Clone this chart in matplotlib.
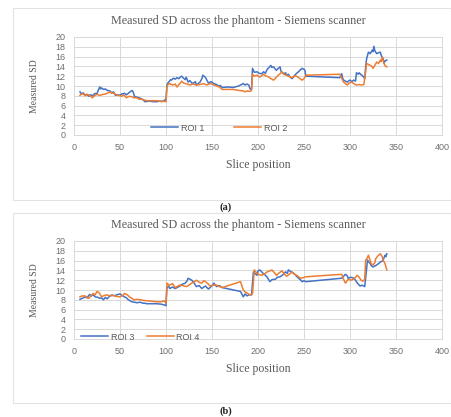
import matplotlib
matplotlib.use("Agg")
import matplotlib.pyplot as plt
from matplotlib.patches import Rectangle

# ---------------- data ----------------
roi1_x = [6.5, 8, 10, 12, 14, 16, 18, 20, 23, 25, 26, 28, 29, 30, 32, 34, 36, 39, 41, 43, 45, 48, 50, 52, 55, 57,
          59, 61, 63, 64, 66, 69, 72, 75, 77, 82, 86, 90, 93, 97, 99, 100,
          101, 102, 103, 105, 106, 108, 110, 112, 114, 116, 117, 119, 121, 122, 124, 126, 128, 130, 132, 133, 135,
          137, 139, 140, 142, 143, 145, 146, 149, 152, 155, 157, 159, 161, 167, 173, 179, 184, 186, 188, 190,
          191, 192, 193, 194, 196, 199, 201, 204, 206, 208, 210, 212, 214, 215, 217, 219, 220, 222, 224, 225, 228,
          230, 231, 233, 235, 237, 239, 240, 242, 244, 246, 248, 250, 251, 252,
          289, 291, 292, 293, 295, 297, 299, 300, 302, 304, 306, 307, 309, 310, 312, 313, 315, 316,
          317, 318, 320, 322, 324, 325, 326, 327, 329, 331, 333, 334, 336, 337, 338, 340]
roi1_y = [8.8, 8.4, 8.6, 8.1, 8.3, 7.9, 8.2, 8.0, 8.5, 8.4, 9.0, 9.8, 9.4, 9.6, 9.3, 9.4, 9.1, 9.0, 8.6, 8.8, 8.1, 8.2, 8.1, 8.4, 8.5, 8.2,
          8.5, 8.8, 9.1, 8.9, 7.8, 7.7, 7.5, 7.2, 6.8, 6.9, 6.8, 6.8, 6.9, 6.9, 7.2, 7.1,
          10.2, 10.6, 10.8, 11.3, 11.2, 11.6, 11.4, 11.7, 11.5, 11.9, 12.0, 11.6, 11.3, 11.8, 10.8, 11.1, 10.6, 10.6, 10.9, 10.2, 10.5,
          10.8, 11.5, 12.2, 11.9, 11.7, 11.0, 10.6, 10.9, 10.5, 10.3, 10.0, 10.1, 9.7, 9.8, 9.7, 10.0, 10.5, 10.2, 10.4, 10.2,
          9.6, 9.3, 9.4, 13.6, 12.8, 12.9, 12.6, 12.5, 12.9, 12.6, 13.4, 13.8, 14.2, 13.8, 13.9, 13.4, 13.2, 13.6, 13.9, 13.0, 12.5,
          12.7, 12.2, 12.4, 11.8, 11.5, 11.9, 12.2, 12.6, 12.9, 13.3, 13.6, 13.4, 13.2, 12.0,
          11.7, 12.5, 11.6, 11.2, 11.0, 10.8, 11.1, 11.2, 10.9, 11.2, 11.0, 12.7, 12.4, 12.7, 12.3, 12.2, 11.8, 11.5,
          13.9, 15.5, 16.9, 16.6, 17.3, 17.0, 18.1, 17.2, 16.6, 16.8, 16.9, 16.2, 15.6, 14.6, 15.1, 15.3]

roi2_x = [6.5, 8, 10, 12, 14, 17, 20, 22, 25, 28, 32, 35, 37, 39, 41, 43, 45, 48, 52, 54, 57, 60, 63, 65, 68,
          71, 74, 77, 79, 85, 90, 93, 95, 98, 100,
          101, 102, 104, 106, 108, 110, 112, 114, 116, 117, 119, 121, 123, 126, 129, 133, 137, 141, 144, 148, 151,
          155, 158, 161, 167, 173, 179, 184, 186, 188, 191, 193,
          194, 196, 199, 202, 206, 208, 211, 214, 217, 219, 222, 224, 226, 228, 231, 234, 237, 239, 242, 245, 248,
          250, 252,
          289, 291, 293, 295, 297, 299, 302, 304, 307, 310, 313, 315, 317, 318, 320, 322, 324, 325, 327, 329,
          331, 333, 334, 335, 337, 338, 340]
roi2_y = [8.1, 8.3, 8.4, 8.0, 8.3, 8.1, 7.6, 8.0, 8.3, 8.1, 8.3, 8.4, 8.6, 8.8, 8.5, 8.6, 8.3, 8.1, 7.9, 8.2, 7.6, 7.9, 7.8, 7.6, 7.6,
          7.3, 7.3, 7.1, 7.0, 7.0, 7.0, 6.9, 6.8, 6.9, 6.8,
          9.8, 10.3, 10.5, 10.3, 10.2, 10.4, 9.8, 10.3, 10.7, 11.0, 10.6, 10.5, 10.4, 10.2, 10.4, 10.2, 10.3, 10.5, 10.2, 10.5, 10.3,
          10.0, 9.8, 9.3, 9.3, 9.3, 9.1, 9.0, 8.8, 9.0, 8.9, 9.1,
          12.4, 12.0, 12.2, 11.8, 12.4, 12.1, 11.9, 11.5, 11.2, 11.6, 12.2, 12.5, 12.9, 12.4, 12.2, 11.9, 11.7, 12.0, 12.0, 11.6, 11.2,
          11.5, 12.2,
          12.4, 11.6, 10.8, 10.5, 10.2, 10.6, 10.8, 10.5, 10.2, 10.3, 10.2, 10.3, 12.9, 14.6, 14.4, 14.2, 14.0, 13.6, 14.2, 14.9,
          14.6, 15.3, 15.0, 15.9, 14.6, 14.2, 13.9]

roi3_x = [6.5, 9, 12, 14, 17, 19, 21, 23, 26, 28, 30, 32, 34, 36, 38, 41, 44, 46, 48, 50, 52, 55, 57, 59, 61, 63,
          66, 68, 72, 75, 77, 79, 85, 90, 95, 97, 100,
          101, 103, 104, 107, 110, 112, 115, 118, 121, 123, 124, 126, 128, 130, 133, 136, 139, 141, 143, 146, 148,
          150, 152, 154, 155, 158, 161, 171, 181, 184, 186, 188, 190, 193,
          195, 197, 199, 200, 202, 205, 208, 210, 213, 215, 219, 221, 224, 227, 230, 232, 233, 236, 239, 241, 244,
          246, 248, 250, 252,
          291, 293, 295, 297, 298, 301, 304, 306, 308, 310, 311, 313, 316,
          317, 319, 320, 322, 323, 325, 327, 329, 331, 333, 335, 336, 338, 339, 340]
roi3_y = [8.1, 8.3, 8.6, 8.4, 9.1, 8.8, 9.0, 8.6, 8.5, 8.3, 8.4, 8.0, 8.5, 8.2, 8.6, 9.0, 8.8, 9.0, 9.1, 9.2, 8.9, 8.6, 8.4, 8.0, 7.8, 7.6,
          7.5, 7.4, 7.5, 7.3, 7.3, 7.2, 7.2, 7.2, 7.1, 7.0, 6.8,
          10.5, 10.8, 10.3, 10.6, 10.3, 10.5, 10.8, 11.2, 11.4, 11.9, 12.4, 12.2, 12.0, 11.6, 10.7, 10.9, 10.3, 10.6, 10.8, 10.2, 10.5,
          10.9, 11.4, 10.9, 10.7, 10.9, 10.5, 10.1, 9.7, 8.6, 9.2, 8.8, 9.0, 9.0,
          13.7, 13.3, 13.0, 13.9, 14.1, 13.5, 13.0, 12.6, 11.7, 12.1, 12.2, 12.6, 12.7, 13.1, 13.7, 13.4, 14.1, 13.7, 13.4, 13.0, 12.4,
          12.1, 11.7, 11.9, 11.7,
          12.4, 12.8, 13.2, 12.9, 12.4, 12.6, 12.4, 12.0, 11.4, 11.0, 10.8, 11.0, 10.7,
          12.4, 16.1, 15.8, 15.4, 15.0, 14.7, 14.9, 15.1, 15.4, 15.7, 15.9, 16.1, 17.1, 16.8, 17.4]

roi4_x = [6.5, 9, 12, 14, 16, 19, 21, 23, 25, 27, 30, 33, 36, 39, 43, 46, 50, 53, 55, 58, 61, 63, 65, 68, 72,
          75, 79, 85, 90, 95, 98, 100,
          101, 103, 104, 107, 110, 113, 115, 118, 122, 125, 128, 131, 133, 136, 139, 141, 143, 146, 148, 151,
          155, 158, 161, 171, 181, 184, 186, 189, 191, 194,
          196, 198, 199, 202, 204, 207, 210, 213, 215, 218, 220, 223, 226, 229, 231, 234, 237, 239, 242, 244, 246,
          249, 252,
          291, 293, 295, 297, 298, 301, 304, 306, 308, 310, 312, 314, 316,
          317, 319, 320, 322, 323, 325, 327, 328, 330, 333, 335, 336, 338, 339, 340]
roi4_y = [8.6, 8.8, 8.8, 8.5, 8.3, 8.9, 9.3, 9.0, 9.7, 9.5, 8.6, 8.9, 9.0, 8.8, 8.9, 8.7, 8.6, 8.9, 9.3, 9.0, 8.5, 8.3, 8.0, 8.1, 8.0,
          7.9, 7.8, 7.7, 7.6, 7.6, 7.8, 7.3,
          11.4, 11.1, 11.0, 11.3, 10.5, 10.8, 11.0, 10.9, 10.7, 11.0, 11.4, 11.7, 12.0, 11.6, 11.4, 11.9, 11.7, 11.2, 10.8, 11.0,
          11.0, 10.7, 10.5, 11.1, 11.7, 10.0, 9.6, 9.3, 9.0, 9.2,
          14.1, 13.6, 13.4, 13.1, 13.0, 13.3, 13.7, 13.9, 14.1, 13.5, 13.0, 13.5, 13.9, 13.2, 12.8, 13.2, 13.7, 13.3, 13.0, 12.7, 12.4,
          12.5, 12.7,
          13.2, 12.2, 11.4, 11.9, 12.2, 12.0, 12.2, 12.6, 13.0, 12.6, 12.0, 11.8, 12.2,
          16.1, 16.6, 17.1, 16.0, 15.4, 15.1, 15.6, 16.4, 16.9, 17.4, 16.8, 16.1, 15.4, 14.8, 14.1]

x_ticks = [0, 50, 100, 150, 200, 250, 300, 350, 400]
y_ticks = [0, 2, 4, 6, 8, 10, 12, 14, 16, 18, 20]
title_text = "Measured SD across the phantom - Siemens scanner"
xlabel_text = "Slice position"
ylabel_text = "Measured SD"

BLUE = "#4472C4"
ORANGE = "#ED7D31"
GRID = "#D9D9D9"
TXT = "#595959"
SERIF = ["Liberation Serif", "DejaVu Serif"]
SANS = ["Liberation Sans", "DejaVu Sans"]

W, H = 452, 417
fig = plt.figure(figsize=(W / 100, H / 100), dpi=100)
fig.patch.set_facecolor("white")


def fx(px):
    return px / W


def fy(py):
    return 1 - py / H


# panel frames
for top, bot in [(8, 200), (213, 403)]:
    fig.add_artist(Rectangle((fx(13), fy(bot)), fx(451) - fx(13), fy(top) - fy(bot),
                             transform=fig.transFigure, fill=False, edgecolor="#E3E3E3", lw=0.8))

panels = [
    dict(top=37, bot=135, s=[(roi1_x, roi1_y, "ROI 1", BLUE), (roi2_x, roi2_y, "ROI 2", ORANGE)],
         leg=(0.395, 0.07), colsp=3.3, title_y=21, xl_y=165, lab="(a)", lab_y=207),
    dict(top=241, bot=339, s=[(roi3_x, roi3_y, "ROI 3", BLUE), (roi4_x, roi4_y, "ROI 4", ORANGE)],
         leg=(0.18, 0.02), colsp=1.4, title_y=225, xl_y=369, lab="(b)", lab_y=411),
]

left_px, right_px = 74, 442
for p in panels:
    ax = fig.add_axes([fx(left_px), fy(p["bot"]), fx(right_px) - fx(left_px), fy(p["top"]) - fy(p["bot"])])
    for xs, ys, name, c in p["s"]:
        ax.plot(xs, ys, color=c, lw=1.1, label=name)
    ax.set_xlim(0, 400)
    ax.set_ylim(0, 20)
    ax.set_xticks(x_ticks)
    ax.set_yticks(y_ticks)
    ax.grid(True, color=GRID, lw=0.7)
    ax.set_axisbelow(True)
    for sp in ax.spines.values():
        sp.set_color(GRID)
        sp.set_linewidth(0.7)
    ax.tick_params(length=0, labelsize=6.5, labelcolor="#6f6f6f", pad=6)
    for t in ax.get_xticklabels() + ax.get_yticklabels():
        t.set_family(SANS)
    ax.legend(ncol=2, loc="center", bbox_to_anchor=p["leg"], frameon=False,
              prop={"family": SANS, "size": 6.5}, handlelength=3.0, columnspacing=p["colsp"],
              handletextpad=0.3, labelcolor=TXT)
    fig.text(fx(238), fy(p["title_y"]), title_text, ha="center", va="center",
             family=SERIF, fontsize=8.7, color=TXT)
    fig.text(fx((left_px + right_px) / 2), fy(p["xl_y"]), xlabel_text, ha="center", va="center",
             family=SERIF, fontsize=8.5, color=TXT)
    fig.text(fx(35), fy((p["top"] + p["bot"]) / 2), ylabel_text, ha="center", va="center",
             rotation=90, family=SERIF, fontsize=7, color=TXT)
    fig.text(fx(226), fy(p["lab_y"]), p["lab"], ha="center", va="center",
             family=SERIF, fontsize=7.5, fontweight="bold", color="#222222")

fig.savefig("out.png", dpi=100)
